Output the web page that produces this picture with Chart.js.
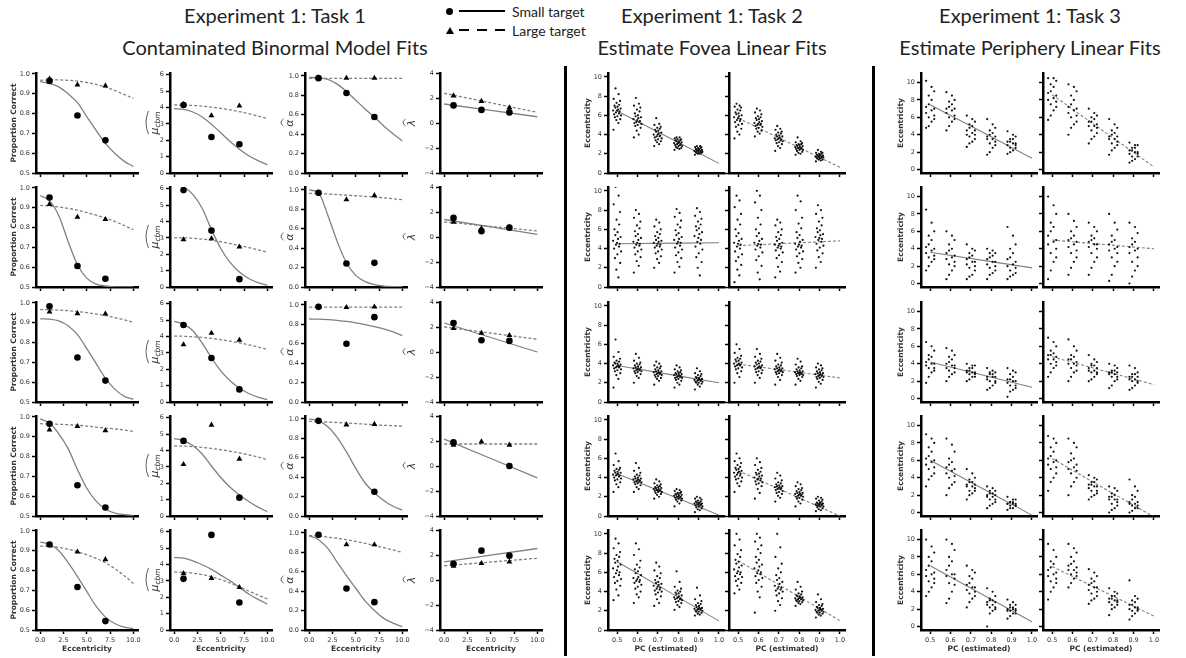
<!DOCTYPE html>
<html>
<head>
<meta charset="utf-8">
<script src="https://cdn.jsdelivr.net/npm/chart.js@4.4.1/dist/chart.umd.min.js"></script>
<style>
  body { margin: 0; width: 1186px; height: 658px; position: relative; overflow: hidden; background: #fff; }
  canvas { position: absolute; }
  .t { position: absolute; transform: translate(-50%, -50%); font: 20px Lato, sans-serif; color: #222; white-space: nowrap; }
  .sep { position: absolute; width: 3px; background: #000; }
  .lg { position: absolute; font: 14px Lato, sans-serif; color: #222; display: flex; align-items: center; white-space: nowrap; height: 16px; }
  .lg .dot { width: 7px; height: 7px; border-radius: 50%; background: #000; margin-right: 6px; }
  .lg .tri { width: 0; height: 0; border-left: 4px solid transparent; border-right: 4px solid transparent; border-bottom: 7px solid #000; margin-right: 5px; }
  .lg .ln { width: 46px; height: 2px; background: #000; margin-right: 7px; }
  .lg .ln.d { background: repeating-linear-gradient(to right, #000 0 10px, transparent 10px 18px); }
</style>
</head>
<body>
<div class="t" style="left:275px;top:15px">Experiment 1: Task 1</div>
<div class="t" style="left:275px;top:47px">Contaminated Binormal Model Fits</div>
<div class="t" style="left:712px;top:15px">Experiment 1: Task 2</div>
<div class="t" style="left:712px;top:47px">Estimate Fovea Linear Fits</div>
<div class="t" style="left:1030px;top:15px">Experiment 1: Task 3</div>
<div class="t" style="left:1030px;top:47px">Estimate Periphery Linear Fits</div>

<div class="lg" style="left:446px;top:3px"><span class="dot"></span><span class="ln"></span>Small target</div>
<div class="lg" style="left:446px;top:22px"><span class="tri"></span><span class="ln d"></span>Large target</div>

<div class="sep" style="left:564px;top:66px;height:590px"></div>
<div class="sep" style="left:872px;top:66px;height:590px"></div>

<script>
// ---- Task 1: contaminated binormal model parameters per observer (rows) ----
const ECC = [1, 4, 7];
const FIT_X = [0, 1, 2, 3, 4, 5, 6, 7, 8, 9, 10];
const LIN_X = [0, 10];

const PC_SMALL = [[0.965, 0.79, 0.665], [0.952, 0.606, 0.542], [0.983, 0.725, 0.608], [0.966, 0.655, 0.543], [0.932, 0.717, 0.545]];
const PC_LARGE = [[0.975, 0.945, 0.94], [0.918, 0.853, 0.842], [0.955, 0.947, 0.945], [0.935, 0.953, 0.931], [0.929, 0.895, 0.856]];
const PC_SMALL_FIT = [
  [0.962, 0.953, 0.935, 0.90, 0.855, 0.785, 0.715, 0.65, 0.6, 0.56, 0.533],
  [0.962, 0.935, 0.86, 0.73, 0.612, 0.545, 0.515, 0.505, 0.501, 0.5, 0.5],
  [0.92, 0.918, 0.91, 0.885, 0.84, 0.77, 0.695, 0.62, 0.565, 0.53, 0.513],
  [0.99, 0.97, 0.915, 0.84, 0.735, 0.64, 0.575, 0.535, 0.515, 0.507, 0.503],
  [0.944, 0.933, 0.9, 0.84, 0.77, 0.695, 0.62, 0.565, 0.533, 0.515, 0.507]
];
const PC_LARGE_FIT = [
  [0.968, 0.97, 0.97, 0.968, 0.964, 0.957, 0.947, 0.934, 0.917, 0.897, 0.877],
  [0.912, 0.909, 0.904, 0.897, 0.888, 0.876, 0.863, 0.848, 0.831, 0.811, 0.789],
  [0.967, 0.966, 0.964, 0.961, 0.957, 0.951, 0.944, 0.936, 0.926, 0.915, 0.903],
  [0.966, 0.965, 0.963, 0.961, 0.958, 0.954, 0.949, 0.944, 0.94, 0.934, 0.927],
  [0.924, 0.922, 0.917, 0.908, 0.895, 0.88, 0.862, 0.84, 0.81, 0.775, 0.735]
];

const MU_SMALL = [[4.15, 2.2, 1.75], [5.91, 3.44, 0.48], [4.7, 2.68, 0.77], [4.58, null, 1.12], [3.12, 5.8, 1.68]];
const MU_LARGE = [[4.2, 3.5, 4.1], [2.89, 2.95, 2.45], [3.5, 4.2, 3.78], [3.15, 5.55, 3.48], [3.45, 3.16, 2.6]];
const MU_SMALL_FIT = [
  [3.92, 3.88, 3.72, 3.42, 2.98, 2.45, 1.92, 1.45, 1.05, 0.75, 0.5],
  [6.28, 6.1, 5.65, 4.8, 3.5, 2.35, 1.5, 0.92, 0.52, 0.27, 0.1],
  [4.92, 4.75, 4.35, 3.6, 2.7, 1.9, 1.3, 0.85, 0.52, 0.3, 0.15],
  [4.72, 4.6, 4.3, 3.78, 3.05, 2.35, 1.75, 1.28, 0.88, 0.54, 0.26],
  [4.42, 4.38, 4.22, 3.98, 3.7, 3.35, 3.0, 2.6, 2.2, 1.87, 1.58]
];
const MU_LARGE_FIT = [
  [4.15, 4.14, 4.12, 4.08, 4.02, 3.94, 3.85, 3.74, 3.62, 3.48, 3.33],
  [3.0, 3.0, 2.97, 2.92, 2.85, 2.76, 2.65, 2.53, 2.4, 2.27, 2.12],
  [4.02, 4.01, 3.98, 3.94, 3.88, 3.8, 3.71, 3.61, 3.49, 3.35, 3.2],
  [4.27, 4.26, 4.23, 4.18, 4.12, 4.04, 3.95, 3.85, 3.73, 3.59, 3.44],
  [3.53, 3.52, 3.47, 3.38, 3.25, 3.08, 2.87, 2.63, 2.38, 2.13, 1.9]
];

const ALPHA_SMALL = [[0.977, 0.824, 0.577], [0.97, 0.242, 0.249], [0.98, 0.6, 0.874], [0.98, null, 0.25], [0.98, 0.427, 0.287]];
const ALPHA_LARGE = [[0.98, 0.977, 0.977], [0.97, 0.9, 0.943], [0.98, 0.975, 0.98], [0.975, 0.94, 0.945], [0.975, 0.88, 0.88]];
const ALPHA_SMALL_FIT = [
  [0.985, 0.98, 0.965, 0.915, 0.84, 0.75, 0.66, 0.575, 0.485, 0.405, 0.33],
  [1.0, 0.97, 0.74, 0.47, 0.25, 0.12, 0.055, 0.025, 0.01, 0.004, 0.002],
  [0.855, 0.853, 0.848, 0.84, 0.83, 0.815, 0.797, 0.776, 0.752, 0.722, 0.685],
  [1.0, 0.98, 0.92, 0.81, 0.66, 0.49, 0.34, 0.24, 0.16, 0.1, 0.06],
  [0.97, 0.93, 0.84, 0.7, 0.56, 0.43, 0.3, 0.2, 0.12, 0.07, 0.035]
];
const ALPHA_LARGE_FIT = [
  [0.975, 0.975, 0.975, 0.975, 0.975, 0.975, 0.975, 0.975, 0.975, 0.975, 0.975],
  [0.965, 0.962, 0.958, 0.952, 0.946, 0.94, 0.933, 0.926, 0.918, 0.909, 0.9],
  [0.978, 0.978, 0.978, 0.978, 0.978, 0.978, 0.978, 0.978, 0.978, 0.978, 0.978],
  [0.975, 0.972, 0.968, 0.963, 0.958, 0.952, 0.946, 0.94, 0.934, 0.93, 0.925],
  [0.973, 0.968, 0.957, 0.945, 0.93, 0.912, 0.892, 0.87, 0.848, 0.825, 0.8]
];

const LAMBDA_SMALL = [[1.41, 1.05, 0.85], [1.53, 0.47, 0.75], [2.32, 0.94, 0.89], [1.89, null, 0.0], [1.3, 2.35, 1.95]];
const LAMBDA_LARGE = [[2.18, 1.74, 1.23], [1.2, 0.68, 0.8], [1.9, 1.51, 1.33], [1.68, 1.94, 1.68], [1.12, 1.33, 1.45]];
const LAMBDA_SMALL_FIT = [[1.52, 0.5], [1.4, 0.21], [2.32, 0.0], [2.15, -0.95], [1.45, 2.52]];
const LAMBDA_LARGE_FIT = [[2.38, 0.85], [1.2, 0.49], [2.0, 1.02], [1.76, 1.76], [1.14, 1.74]];

// ---- Tasks 2 and 3: estimated eccentricity per PC level ----
const PC_LEVELS = [0.5, 0.6, 0.7, 0.8, 0.9];
const FOVEA_SMALL = [
  ["4.5 5.2 5.5 5.6 5.8 5.9 6.0 6.1 6.2 6.3 6.4 6.5 6.5 6.6 6.7 6.8 6.9 7.0 7.1 7.3 7.5 7.7 8.2 8.8",
   "3.7 4.0 4.4 4.7 4.9 5.0 5.1 5.2 5.3 5.3 5.4 5.5 5.6 5.7 5.8 5.9 6.0 6.2 6.4 6.6 6.8 7.0 7.2 7.8",
   "2.8 3.0 3.2 3.3 3.4 3.5 3.6 3.7 3.8 3.8 3.9 4.0 4.0 4.1 4.2 4.3 4.4 4.5 4.6 4.7 4.8 5.0 5.1 5.7",
   "2.4 2.5 2.6 2.6 2.7 2.8 2.8 2.9 2.9 3.0 3.0 3.1 3.1 3.2 3.2 3.3 3.3 3.4 3.4 3.5 3.5 3.6 3.7 3.7",
   "1.9 2.0 2.0 2.1 2.1 2.1 2.2 2.2 2.2 2.3 2.3 2.3 2.3 2.4 2.4 2.4 2.5 2.5 2.6 2.6 2.7 2.7 2.8 2.8"],
  ["0.0 1.0 1.8 2.5 3.0 3.4 3.7 4.0 4.2 4.4 4.5 4.6 4.8 5.0 5.2 5.4 5.7 6.0 6.5 7.0 7.8 8.6 9.5 10.4",
   "1.5 2.2 2.7 3.1 3.4 3.7 3.9 4.1 4.3 4.4 4.5 4.6 4.7 4.9 5.1 5.3 5.5 5.8 6.1 6.4 6.8 7.2 7.6 8.0",
   "2.0 2.5 2.9 3.2 3.5 3.7 3.9 4.1 4.2 4.3 4.4 4.5 4.6 4.7 4.8 4.9 5.1 5.3 5.5 5.7 6.0 6.3 6.7 7.0",
   "1.5 2.1 2.6 3.0 3.3 3.6 3.9 4.1 4.3 4.5 4.6 4.7 4.9 5.0 5.2 5.4 5.6 5.9 6.2 6.5 6.9 7.3 7.7 8.1",
   "0.0 1.2 2.0 2.6 3.1 3.5 3.9 4.2 4.5 4.7 4.9 5.1 5.3 5.5 5.7 5.9 6.1 6.3 6.5 6.8 7.1 7.4 7.8 8.2"],
  ["1.5 2.4 2.8 3.0 3.2 3.3 3.4 3.5 3.6 3.6 3.7 3.7 3.8 3.8 3.9 4.0 4.0 4.1 4.2 4.3 4.5 4.7 5.2 6.5",
   "2.0 2.5 2.7 2.9 3.0 3.1 3.2 3.2 3.3 3.3 3.4 3.4 3.5 3.5 3.6 3.6 3.7 3.8 3.9 4.0 4.1 4.3 4.6 5.0",
   "1.8 2.2 2.4 2.5 2.6 2.7 2.8 2.8 2.9 2.9 3.0 3.0 3.1 3.1 3.2 3.2 3.3 3.4 3.5 3.6 3.7 3.8 4.0 4.2",
   "1.5 1.8 2.0 2.2 2.3 2.4 2.5 2.5 2.6 2.6 2.7 2.7 2.8 2.8 2.9 2.9 3.0 3.0 3.1 3.2 3.3 3.4 3.6 3.8",
   "1.3 1.6 1.8 1.9 2.0 2.0 2.1 2.1 2.2 2.2 2.3 2.3 2.3 2.4 2.4 2.5 2.5 2.6 2.7 2.8 2.9 3.0 3.2 3.5"],
  ["2.5 3.0 3.3 3.5 3.7 3.8 3.9 4.0 4.1 4.2 4.2 4.3 4.3 4.4 4.5 4.5 4.6 4.7 4.8 4.9 5.0 5.3 5.7 6.5",
   "2.5 2.8 3.0 3.2 3.3 3.4 3.5 3.5 3.6 3.6 3.7 3.7 3.8 3.8 3.9 3.9 4.0 4.1 4.2 4.3 4.5 4.7 5.0 5.5",
   "1.8 2.0 2.2 2.3 2.4 2.5 2.5 2.6 2.6 2.7 2.7 2.7 2.8 2.8 2.9 2.9 3.0 3.0 3.1 3.2 3.3 3.4 3.6 3.8",
   "1.0 1.3 1.5 1.6 1.7 1.8 1.8 1.9 1.9 2.0 2.0 2.0 2.1 2.1 2.2 2.2 2.3 2.3 2.4 2.4 2.5 2.6 2.7 2.8",
   "0.4 0.6 0.7 0.8 0.9 1.0 1.0 1.1 1.1 1.2 1.2 1.2 1.3 1.3 1.3 1.4 1.4 1.5 1.5 1.6 1.7 1.8 1.9 2.0"],
  ["3.1 3.6 4.2 4.6 4.9 5.1 5.3 5.5 5.7 5.9 6.0 6.2 6.4 6.6 6.8 7.0 7.2 7.4 7.6 7.8 8.1 8.5 9.0 9.5",
   "2.8 3.4 3.7 4.0 4.3 4.5 4.7 4.9 5.0 5.1 5.2 5.3 5.4 5.5 5.7 5.9 6.1 6.3 6.5 6.8 7.2 7.8 8.4 9.0",
   "2.5 2.8 3.2 3.5 3.7 3.9 4.0 4.1 4.2 4.3 4.4 4.5 4.6 4.7 4.8 4.9 5.0 5.2 5.4 5.6 5.9 6.2 6.6 7.0",
   "2.1 2.4 2.6 2.8 2.9 3.0 3.1 3.2 3.2 3.3 3.3 3.4 3.4 3.5 3.6 3.7 3.8 3.9 4.0 4.1 4.3 4.5 5.0 6.1",
   "1.5 1.6 1.7 1.8 1.9 1.9 2.0 2.0 2.1 2.1 2.2 2.2 2.2 2.3 2.3 2.4 2.5 2.6 2.7 2.8 3.0 3.2 3.6 4.4"]
];
const FOVEA_LARGE = [
  ["3.6 4.0 4.3 4.6 4.8 5.0 5.1 5.3 5.4 5.5 5.6 5.7 5.8 5.9 6.0 6.1 6.2 6.3 6.5 6.6 6.8 6.9 7.0 7.2",
   "3.8 4.1 4.3 4.4 4.6 4.7 4.8 4.9 5.0 5.0 5.1 5.1 5.2 5.3 5.4 5.5 5.6 5.7 5.8 5.9 6.1 6.3 6.5 6.7",
   "2.3 2.6 2.8 3.0 3.1 3.2 3.3 3.4 3.4 3.5 3.5 3.6 3.6 3.7 3.8 3.8 3.9 4.0 4.1 4.2 4.3 4.5 4.6 4.9",
   "1.9 2.0 2.1 2.2 2.3 2.4 2.4 2.5 2.5 2.6 2.6 2.6 2.7 2.7 2.8 2.8 2.9 2.9 3.0 3.0 3.1 3.2 3.3 3.7",
   "1.2 1.3 1.4 1.4 1.5 1.5 1.6 1.6 1.6 1.7 1.7 1.7 1.7 1.8 1.8 1.8 1.9 1.9 2.0 2.0 2.1 2.1 2.2 2.4"],
  ["0.5 1.2 1.8 2.3 2.7 3.1 3.4 3.7 4.0 4.2 4.4 4.5 4.6 4.8 5.0 5.3 5.6 6.0 6.5 7.0 7.6 8.3 9.0 9.5",
   "0.0 0.8 1.5 2.2 2.8 3.2 3.6 3.9 4.1 4.3 4.4 4.5 4.6 4.8 5.0 5.3 5.6 6.0 6.5 7.2 8.0 8.8 9.5 10.0",
   "1.0 1.6 2.1 2.6 3.0 3.3 3.6 3.8 4.0 4.1 4.2 4.3 4.4 4.5 4.6 4.8 5.0 5.2 5.4 5.7 6.0 6.4 6.7 7.0",
   "1.5 2.0 2.5 2.9 3.2 3.5 3.7 3.9 4.1 4.2 4.3 4.4 4.5 4.7 4.9 5.1 5.4 5.7 6.1 6.6 7.2 8.0 8.9 9.5",
   "2.0 2.6 3.1 3.5 3.8 4.1 4.3 4.5 4.7 4.9 5.0 5.1 5.2 5.4 5.5 5.7 5.9 6.1 6.4 6.8 7.2 7.6 8.0 8.5"],
  ["2.0 2.6 3.0 3.2 3.4 3.5 3.6 3.7 3.8 3.8 3.9 3.9 4.0 4.0 4.1 4.2 4.3 4.4 4.5 4.6 4.8 5.1 5.5 6.0",
   "2.0 2.5 2.8 3.0 3.1 3.2 3.3 3.4 3.5 3.5 3.6 3.6 3.7 3.7 3.8 3.9 4.0 4.1 4.2 4.3 4.5 4.7 5.0 5.5",
   "1.8 2.3 2.6 2.8 2.9 3.0 3.1 3.1 3.2 3.2 3.3 3.3 3.4 3.4 3.5 3.5 3.6 3.7 3.8 3.9 4.1 4.3 4.6 5.0",
   "1.8 2.2 2.4 2.6 2.7 2.8 2.8 2.9 2.9 3.0 3.0 3.0 3.1 3.1 3.2 3.2 3.3 3.4 3.5 3.6 3.7 3.9 4.2 4.5",
   "1.5 1.9 2.1 2.3 2.4 2.5 2.6 2.6 2.7 2.7 2.8 2.8 2.9 2.9 3.0 3.0 3.1 3.2 3.3 3.4 3.5 3.6 3.8 4.0"],
  ["2.5 3.1 3.4 3.6 3.8 3.9 4.0 4.1 4.2 4.3 4.4 4.5 4.5 4.6 4.7 4.8 4.9 5.0 5.1 5.3 5.5 5.7 6.0 6.5",
   "1.8 2.4 2.8 3.1 3.3 3.4 3.5 3.6 3.7 3.8 3.9 3.9 4.0 4.1 4.2 4.3 4.4 4.5 4.6 4.8 5.0 5.3 5.6 6.0",
   "1.5 1.9 2.1 2.3 2.4 2.5 2.6 2.7 2.8 2.8 2.9 2.9 3.0 3.0 3.1 3.1 3.2 3.3 3.4 3.5 3.7 3.9 4.2 4.5",
   "1.0 1.3 1.5 1.7 1.8 1.9 2.0 2.0 2.1 2.1 2.2 2.2 2.3 2.3 2.4 2.4 2.5 2.6 2.7 2.8 2.9 3.1 3.3 3.5",
   "0.5 0.6 0.7 0.8 0.9 1.0 1.0 1.1 1.1 1.1 1.2 1.2 1.2 1.3 1.3 1.3 1.4 1.4 1.5 1.6 1.7 1.8 1.9 2.0"],
  ["3.8 4.2 4.6 4.9 5.1 5.3 5.5 5.6 5.8 5.9 6.0 6.1 6.3 6.5 6.7 6.9 7.1 7.3 7.6 7.9 8.3 8.8 9.4 10.0",
   "1.8 3.4 4.0 4.5 4.9 5.2 5.4 5.6 5.8 5.9 6.0 6.2 6.4 6.6 6.8 7.0 7.3 7.6 8.0 8.4 8.8 9.2 9.6 10.0",
   "2.0 2.6 3.0 3.3 3.6 3.8 4.0 4.1 4.2 4.3 4.4 4.5 4.6 4.8 5.0 5.2 5.4 5.7 6.0 6.4 6.9 7.6 8.6 10.0",
   "2.5 2.7 2.8 2.9 3.0 3.0 3.1 3.1 3.2 3.2 3.3 3.3 3.3 3.4 3.4 3.5 3.5 3.6 3.7 3.8 4.0 4.2 4.5 5.0",
   "1.3 1.5 1.6 1.7 1.8 1.8 1.9 1.9 2.0 2.0 2.1 2.1 2.1 2.2 2.2 2.3 2.3 2.4 2.5 2.6 2.7 2.9 3.2 3.7"]
];
const FOVEA_SMALL_FIT = [[6.45, 1.0], [4.5, 4.6], [3.8, 2.0], [4.4, 0.1], [7.1, 0.95]];
const FOVEA_LARGE_FIT = [[5.7, 0.6], [4.3, 4.8], [3.95, 2.5], [4.7, 0.0], [7.2, 0.97]];

const PERIPH_SMALL = [
  ["4.8 5.0 5.5 5.8 6.0 6.2 6.5 6.8 7.0 7.2 7.5 8.0 8.5 9.0 9.5 10.2",
   "4.5 5.0 5.5 5.8 6.0 6.2 6.5 6.8 7.0 7.0 7.2 7.5 7.8 8.0 8.5 8.9",
   "2.6 3.0 3.2 3.5 3.8 4.0 4.0 4.2 4.5 4.5 4.8 5.0 5.2 5.5 5.8 6.2",
   "1.7 2.0 2.5 2.8 3.0 3.2 3.5 3.5 3.8 3.8 4.0 4.2 4.5 4.8 5.2 5.8",
   "1.8 2.0 2.2 2.5 2.5 2.8 2.8 3.0 3.0 3.2 3.2 3.5 3.5 3.8 4.0 4.4"],
  ["1.5 2.0 2.5 2.8 3.0 3.2 3.5 3.8 4.0 4.2 4.5 5.0 5.5 6.0 7.0 8.5",
   "0.5 1.0 1.5 2.0 2.2 2.5 2.8 3.0 3.2 3.5 3.8 4.0 4.5 5.0 5.5 6.0",
   "0.5 0.8 1.0 1.5 1.8 2.0 2.2 2.5 2.5 2.8 3.0 3.2 3.5 3.8 4.0 4.5",
   "0.5 1.0 1.2 1.5 1.8 2.0 2.2 2.5 2.5 2.8 3.0 3.2 3.5 3.5 3.8 4.0",
   "0.5 0.8 1.0 1.2 1.5 1.8 2.0 2.2 2.5 2.8 3.0 3.5 4.0 4.5 5.5 6.5"],
  ["1.8 2.5 3.0 3.2 3.5 3.5 3.8 4.0 4.0 4.2 4.5 4.8 5.0 5.5 6.0 6.5",
   "2.0 2.5 2.8 3.0 3.2 3.5 3.5 3.8 3.8 4.0 4.2 4.5 4.8 5.0 5.5 5.8",
   "2.0 2.2 2.5 2.5 2.8 2.8 3.0 3.0 3.0 3.2 3.2 3.5 3.5 3.8 3.8 4.0",
   "1.0 1.2 1.5 1.8 2.0 2.0 2.2 2.5 2.5 2.5 2.8 2.8 3.0 3.0 3.2 3.5",
   "0.2 0.8 1.0 1.2 1.5 1.5 1.8 2.0 2.0 2.2 2.2 2.5 2.8 3.0 3.2 3.5"],
  ["3.0 3.8 4.2 4.5 5.0 5.2 5.5 5.8 6.0 6.2 6.5 7.0 7.5 8.0 8.5 9.0",
   "2.0 2.8 3.2 3.5 4.0 4.2 4.5 4.8 5.0 5.2 5.5 5.8 6.2 7.0 7.8 8.5",
   "1.5 2.0 2.2 2.5 2.5 2.8 3.0 3.0 3.2 3.2 3.5 3.5 3.8 4.0 4.5 5.0",
   "0.5 0.8 1.0 1.2 1.5 1.5 1.8 1.8 2.0 2.0 2.2 2.2 2.5 2.5 2.8 3.0",
   "0.3 0.5 0.5 0.8 0.8 0.8 1.0 1.0 1.0 1.0 1.2 1.2 1.2 1.5 1.5 1.8"],
  ["3.5 4.0 4.5 5.0 5.2 5.5 5.8 6.0 6.2 6.5 7.0 7.5 8.0 8.5 9.2 10.0",
   "2.7 3.2 4.0 4.8 5.0 5.5 5.8 6.0 6.0 6.5 7.0 7.5 8.0 8.8 9.5 10.0",
   "2.2 2.8 3.2 3.5 3.8 4.0 4.2 4.5 4.5 4.8 5.0 5.5 5.8 6.2 6.5 7.0",
   "0.0 1.5 1.8 2.0 2.2 2.2 2.5 2.5 2.8 2.8 3.0 3.0 3.2 3.5 4.0 4.4",
   "0.9 1.2 1.5 1.5 1.8 1.8 1.8 2.0 2.0 2.0 2.2 2.2 2.5 2.5 2.8 3.1"]
];
const PERIPH_LARGE = [
  ["5.7 6.2 6.8 7.2 7.5 7.8 8.0 8.2 8.5 8.8 9.0 9.5 9.8 10.2 10.5 10.5",
   "4.0 4.8 5.2 5.5 6.0 6.2 6.5 6.8 7.0 7.2 7.5 8.0 8.5 9.0 9.5 9.8",
   "3.0 3.5 3.8 4.2 4.5 4.8 5.0 5.0 5.2 5.5 5.5 5.8 6.0 6.2 6.5 7.0",
   "1.7 2.2 2.5 2.8 3.0 3.2 3.5 3.5 3.8 3.8 4.0 4.2 4.5 4.8 5.2 5.8",
   "0.8 1.0 1.2 1.5 1.5 1.8 1.8 2.0 2.0 2.2 2.2 2.5 2.5 2.8 2.8 3.1"],
  ["0.5 1.5 2.5 3.0 3.5 4.0 4.5 4.8 5.0 5.5 6.0 6.5 7.0 8.0 9.0 10.0",
   "1.0 1.8 2.5 3.0 3.5 3.8 4.2 4.5 4.8 5.0 5.2 5.5 6.0 6.5 7.2 8.0",
   "1.0 1.8 2.5 3.0 3.5 4.0 4.2 4.5 4.5 4.8 5.0 5.2 5.5 6.0 6.5 7.0",
   "0.3 1.0 2.0 2.5 3.0 3.5 3.8 4.0 4.2 4.5 4.8 5.0 5.5 6.2 7.0 8.0",
   "0.0 0.8 1.5 2.0 2.5 3.0 3.5 3.8 4.0 4.2 4.5 4.8 5.2 5.8 6.5 7.0"],
  ["2.5 3.0 3.5 3.8 4.0 4.2 4.5 4.5 4.8 5.0 5.0 5.2 5.5 6.0 6.5 7.0",
   "2.0 2.5 3.0 3.2 3.5 3.8 4.0 4.0 4.2 4.5 4.5 4.8 5.0 5.5 6.0 6.8",
   "2.0 2.2 2.5 2.8 3.0 3.0 3.2 3.2 3.5 3.5 3.8 3.8 4.0 4.2 4.5 5.0",
   "1.2 1.5 2.0 2.2 2.5 2.5 2.8 2.8 3.0 3.0 3.0 3.2 3.2 3.5 3.8 4.0",
   "1.0 1.2 1.5 1.8 2.0 2.0 2.2 2.2 2.5 2.5 2.5 2.8 2.8 3.0 3.5 3.8"],
  ["2.5 3.5 4.0 4.5 5.0 5.2 5.5 5.8 6.0 6.2 6.5 7.0 7.5 8.0 8.5 8.8",
   "2.0 3.0 3.5 4.0 4.5 4.8 5.0 5.2 5.5 5.8 6.0 6.2 6.8 7.5 8.0 8.5",
   "1.5 1.8 2.0 2.2 2.5 2.5 2.8 3.0 3.0 3.2 3.2 3.5 3.5 3.8 4.0 4.3",
   "0.0 0.3 0.5 0.8 1.0 1.2 1.5 1.5 1.5 1.8 1.8 2.0 2.2 2.5 2.8 3.0",
   "0.0 0.2 0.5 0.5 0.8 0.8 1.0 1.0 1.2 1.2 1.5 1.8 2.0 2.5 3.0 3.8"],
  ["3.1 4.0 4.5 5.0 5.2 5.5 5.8 6.0 6.2 6.5 6.8 7.2 7.5 8.0 8.8 9.5",
   "4.5 5.0 5.5 5.8 6.0 6.2 6.5 6.5 6.8 7.0 7.2 7.5 8.0 8.5 9.0 9.5",
   "2.6 3.0 3.2 3.5 3.8 4.0 4.2 4.5 4.5 4.8 5.0 5.2 5.5 5.8 6.2 6.6",
   "1.3 2.0 2.2 2.5 2.5 2.8 2.8 3.0 3.0 3.2 3.2 3.5 3.5 3.8 4.0 4.4",
   "0.8 1.2 1.5 1.8 1.8 2.0 2.0 2.2 2.2 2.5 2.5 2.8 3.0 3.2 3.5 5.3"]
];
const PERIPH_SMALL_FIT = [[7.45, 1.3], [3.6, 1.8], [4.2, 1.3], [6.0, -0.3], [7.0, 0.55]];
const PERIPH_LARGE_FIT = [[8.6, 0.3], [5.0, 4.0], [4.8, 1.6], [6.2, -0.5], [6.9, 1.2]];

// horizontal spread of the dots within each PC column
const JITTER_FOVEA = [-0.018, 0.006, -0.004, 0.015, -0.011, 0.001, 0.019, -0.015, 0.009, -0.006, 0.012, -0.001,
  -0.02, 0.004, 0.017, -0.009, 0.002, -0.013, 0.01, -0.003, 0.014, -0.017, 0.007, -0.008];
const JITTER_PERIPH = [-0.02, -0.007, 0.007, 0.02, -0.007, 0.02, -0.02, 0.007, 0.02, -0.02, -0.007, 0.007,
  -0.007, 0.02, 0.007, -0.02];

// ---- layout ----
const ROW_TOP = [73, 187, 302, 416, 530];
const PLOT_H = 100;
const YW = 40, PR = 14, PT = 7, XH = 25;
const LINE_GREY = '#808080';

function fmt1(v) { return v.toFixed(1); }
function fmtInt(v) { return v < 0 ? '\u2212' + Math.abs(v) : String(v); }

function axis(a, dir, showLabels, title) {
  return {
    type: 'linear', min: a.min, max: a.max,
    afterBuildTicks: s => { s.ticks = a.ticks.map(v => ({ value: v })); },
    afterFit: s => { if (dir === 'x') s.height = XH; else s.width = YW; },
    ticks: {
      autoSkip: false, maxRotation: 0, padding: 2, color: '#333',
      font: { family: 'DejaVu Sans', size: 6.5 },
      callback: v => showLabels ? a.fmt(v) : ''
    },
    grid: { drawOnChartArea: false, drawTicks: true, tickLength: 4, tickWidth: 1.5, tickColor: '#000', color: '#000' },
    border: { display: true, color: '#000', width: 2.5 },
    title: title ? {
      display: true, text: title, color: '#333',
      font: { family: 'DejaVu Sans', size: 7.5, weight: 'bold' },
      padding: { top: 0, bottom: 1 }
    } : { display: false }
  };
}

// rotated y-axis label; symbols get a wide hat like the fitted-parameter notation
function drawYLabel(chart, lab) {
  const { ctx, chartArea } = chart;
  ctx.save();
  ctx.translate(chartArea.left - lab.dx, (chartArea.top + chartArea.bottom) / 2);
  ctx.rotate(-Math.PI / 2);
  ctx.fillStyle = '#333';
  ctx.textBaseline = 'middle';
  if (lab.text) {
    ctx.font = 'bold 7.5px "DejaVu Sans"';
    ctx.textAlign = 'center';
    ctx.fillText(lab.text, 0, 0);
  } else {
    const f1 = 'italic 11px "DejaVu Sans"', f2 = 'italic 7.5px "DejaVu Sans"';
    ctx.font = f1; const w1 = ctx.measureText(lab.sym).width;
    ctx.font = f2; const w2 = lab.sub ? ctx.measureText(lab.sub).width : 0;
    const x0 = -(w1 + w2) / 2;
    ctx.textAlign = 'left';
    ctx.font = f1; ctx.fillText(lab.sym, x0, 0);
    if (lab.sub) { ctx.font = f2; ctx.fillText(lab.sub, x0 + w1, 3); }
    const hx0 = x0 + 0.5, hx1 = x0 + w1 + w2 + 0.5, hy = -6.5;
    ctx.strokeStyle = '#333'; ctx.lineWidth = 0.8;
    ctx.beginPath();
    ctx.moveTo(hx0, hy);
    ctx.quadraticCurveTo((hx0 + hx1) / 2, hy - 5, hx1, hy);
    ctx.stroke();
  }
  ctx.restore();
}

function panel(o) {
  const W = YW + o.w + PR, H = PT + PLOT_H + XH;
  const c = document.createElement('canvas');
  c.width = W; c.height = H;
  c.style.left = (o.left - YW) + 'px';
  c.style.top = (o.top - PT) + 'px';
  document.body.appendChild(c);
  new Chart(c, {
    type: 'scatter',
    data: { datasets: o.datasets },
    options: {
      responsive: false, animation: false, events: [],
      layout: { padding: { top: PT, right: PR, left: 0, bottom: 0 } },
      plugins: { legend: { display: false }, tooltip: { enabled: false } },
      scales: {
        x: axis(o.x, 'x', o.bottom, o.bottom ? o.xTitle : null),
        y: axis(o.y, 'y', o.yLabels, null)
      }
    },
    plugins: o.ylab ? [{ id: 'ylab', afterDraw: ch => drawYLabel(ch, o.ylab) }] : []
  });
}

function marks(xs, ys, style, r) {
  return {
    data: xs.map((x, i) => ({ x, y: ys[i] })).filter(p => p.y !== null),
    showLine: false, pointStyle: style, pointRadius: r, backgroundColor: '#000', borderWidth: 0
  };
}
function fitLine(xs, ys, dashed, width) {
  return {
    data: xs.map((x, i) => ({ x, y: ys[i] })),
    showLine: true, pointRadius: 0, borderColor: LINE_GREY, borderWidth: width,
    borderDash: dashed ? [3, 2] : [], cubicInterpolationMode: 'monotone', fill: false
  };
}
function cloud(strs, jitter) {
  const pts = [];
  strs.forEach((s, k) => {
    s.split(' ').map(Number).forEach((v, i) => pts.push({ x: PC_LEVELS[k] + jitter[i % jitter.length], y: v }));
  });
  return { data: pts, showLine: false, pointRadius: 1.1, pointStyle: 'circle', backgroundColor: '#111', borderWidth: 0 };
}

// ---- Task 1 panels ----
const ECC_AXIS = { min: -0.45, max: 10.5, ticks: [0, 2.5, 5, 7.5, 10], fmt: fmt1 };
const TASK1_COLS = [
  { left: 36, y: { min: 0.5, max: 1.005, ticks: [0.5, 0.6, 0.7, 0.8, 0.9, 1.0], fmt: fmt1 },
    small: PC_SMALL, large: PC_LARGE, sFit: PC_SMALL_FIT, lFit: PC_LARGE_FIT, fx: FIT_X,
    ylab: { text: 'Proportion Correct', dx: 22 } },
  { left: 170, y: { min: 0, max: 6.1, ticks: [0, 1, 2, 3, 4, 5, 6], fmt: fmtInt },
    small: MU_SMALL, large: MU_LARGE, sFit: MU_SMALL_FIT, lFit: MU_LARGE_FIT, fx: FIT_X,
    ylab: { sym: '\u03bc', sub: 'cbm', dx: 15 } },
  { left: 305, y: { min: 0, max: 1.03, ticks: [0, 0.2, 0.4, 0.6, 0.8, 1.0], fmt: fmt1 },
    small: ALPHA_SMALL, large: ALPHA_LARGE, sFit: ALPHA_SMALL_FIT, lFit: ALPHA_LARGE_FIT, fx: FIT_X,
    ylab: { sym: '\u03b1', dx: 15 } },
  { left: 440, y: { min: -4, max: 4, ticks: [-4, -2, 0, 2, 4], fmt: fmtInt },
    small: LAMBDA_SMALL, large: LAMBDA_LARGE, sFit: LAMBDA_SMALL_FIT, lFit: LAMBDA_LARGE_FIT, fx: LIN_X,
    ylab: { sym: '\u03bb', dx: 28 } }
];
TASK1_COLS.forEach(col => {
  ROW_TOP.forEach((top, r) => {
    panel({
      left: col.left, top, w: 102, x: ECC_AXIS, y: col.y,
      bottom: r === 4, xTitle: 'Eccentricity', yLabels: true, ylab: col.ylab,
      datasets: [
        marks(ECC, col.small[r], 'circle', 3.3),
        marks(ECC, col.large[r], 'triangle', 3.4),
        fitLine(col.fx, col.sFit[r], false, 1.3),
        fitLine(col.fx, col.lFit[r], true, 1.3)
      ]
    });
  });
});

// ---- Tasks 2 and 3 panels ----
const PC_AXIS = { min: 0.455, max: 1.025, ticks: [0.5, 0.6, 0.7, 0.8, 0.9, 1.0], fmt: fmt1 };
const FOVEA_Y = { min: 0, max: 10.4, ticks: [0, 2, 4, 6, 8, 10], fmt: fmtInt };
const PERIPH_Y = { min: -0.4, max: 11.1, ticks: [0, 2, 4, 6, 8, 10], fmt: fmtInt };
const SCATTER_COLS = [
  { left: 608, y: FOVEA_Y, pts: FOVEA_SMALL, fit: FOVEA_SMALL_FIT, jit: JITTER_FOVEA, dashed: false, first: true },
  { left: 729, y: FOVEA_Y, pts: FOVEA_LARGE, fit: FOVEA_LARGE_FIT, jit: JITTER_FOVEA, dashed: true, first: false },
  { left: 921, y: PERIPH_Y, pts: PERIPH_SMALL, fit: PERIPH_SMALL_FIT, jit: JITTER_PERIPH, dashed: false, first: true },
  { left: 1043, y: PERIPH_Y, pts: PERIPH_LARGE, fit: PERIPH_LARGE_FIT, jit: JITTER_PERIPH, dashed: true, first: false }
];
SCATTER_COLS.forEach(col => {
  ROW_TOP.forEach((top, r) => {
    panel({
      left: col.left, top, w: 116, x: PC_AXIS, y: col.y,
      bottom: r === 4, xTitle: 'PC (estimated)', yLabels: col.first,
      ylab: col.first ? { text: 'Eccentricity', dx: 20 } : null,
      datasets: [
        cloud(col.pts[r], col.jit),
        fitLine([0.5, 1.0], col.fit[r], col.dashed, 1.1)
      ]
    });
  });
});
</script>
</body>
</html>
